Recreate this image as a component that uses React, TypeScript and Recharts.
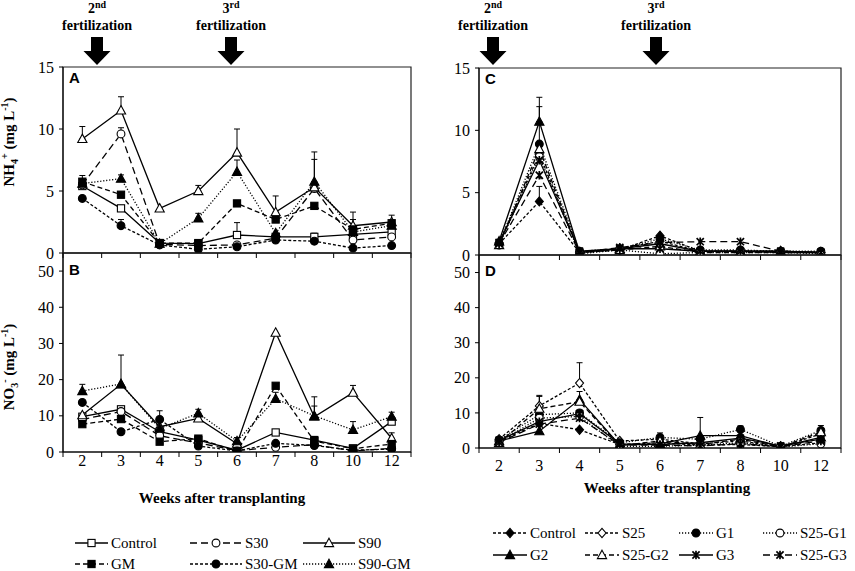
import React from "react";
import { ErrorBar, Line, LineChart, ReferenceArea, XAxis, YAxis } from "recharts";

const serif = "Liberation Serif, DejaVu Serif, serif";
const sans = "Liberation Sans, Arial, sans-serif";

const weeks = ["2", "3", "4", "5", "6", "7", "8", "10", "12"];
// integer ticks = band edges (tick marks), half ticks = band centres (labels)
const xTicks = [0, 0.5, 1, 1.5, 2, 2.5, 3, 3.5, 4, 4.5, 5, 5.5, 6, 6.5, 7, 7.5, 8, 8.5, 9];
const nh4Ticks = [0, 5, 10, 15];
const no3Ticks = [0, 10, 20, 30, 40, 50];

// Panel A: NH4+ (left experiment)
const aControl = [5.4, 3.6, 0.8, 0.75, 1.45, 1.3, 1.3, 1.5, 1.7];
const aS30 = [5.5, 9.6, 0.7, 0.6, 0.65, 1.2, 5.2, 1.05, 1.3];
const aS90 = [9.2, 11.5, 3.6, 5.0, 8.1, 3.3, 5.3, 2.2, 2.5];
const aGM = [5.75, 4.7, 0.8, 0.8, 4.0, 2.7, 3.8, 1.9, 2.4];
const aS30GM = [4.4, 2.2, 0.65, 0.3, 0.5, 1.05, 0.95, 0.4, 0.6];
const aS90GM = [5.6, 6.0, 0.75, 2.8, 6.55, 1.6, 5.75, 1.7, 2.2];
const aControlErr = [0.4, 0, 0, 0, 1.0, 0, 0.3, 0, 0];
const aS30Err = [0, 0.5, 0, 0, 0, 0, 0, 0, 0];
const aS90Err = [1.0, 1.1, 0, 0.45, 1.9, 1.3, 2.25, 1.1, 0.55];
const aGMErr = [0.5, 0, 0, 0, 0, 0, 0, 0.8, 0];
const aS30GMErr = [0, 0.5, 0, 0, 0, 0, 0, 0, 0];
const aS90GMErr = [0, 0.3, 0, 0.4, 0.95, 0, 2.4, 0, 0];

// Panel B: NO3- (left experiment)
const bControl = [9.75, 11.8, 5.6, 3.3, 0.5, 5.4, 3.3, 1.0, 8.4];
const bS30 = [9.0, 11.2, 4.5, 2.5, 0.4, 1.3, 2.0, 0.3, 1.0];
const bS90 = [10.2, 18.7, 7.0, 9.3, 2.3, 33.0, 9.75, 16.4, 3.8];
const bGM = [7.7, 9.1, 2.85, 3.7, 0.2, 18.3, 3.0, 0.9, 2.2];
const bS30GM = [13.7, 5.6, 9.0, 1.65, 0.3, 2.4, 1.8, 0.5, 0.8];
const bS90GM = [16.85, 18.8, 6.5, 10.7, 3.0, 14.7, 10.0, 6.1, 9.8];
const bControlErr = [0, 0, 0, 0, 0, 0, 1.0, 0, 0];
const bS30Err = [0, 0, 0, 0, 0, 0, 0, 0, 0];
const bS90Err = [0, 8.1, 0, 0, 0, 0, 5.5, 2.0, 1.5];
const bGMErr = [0, 0, 0, 0, 0, 0, 0, 0, 0];
const bS30GMErr = [0, 0, 2.4, 0, 0, 0, 0, 0, 0];
const bS90GMErr = [1.85, 0, 0, 1.1, 1.0, 1.8, 2.7, 2.3, 1.2];

// Panel C: NH4+ (right experiment)
const cControl = [0.9, 4.3, 0.2, 0.4, 1.55, 0.3, 0.3, 0.3, 0.2];
const cS25 = [1.0, 8.1, 0.2, 0.5, 1.1, 0.3, 0.3, 0.3, 0.2];
const cG1 = [0.9, 8.9, 0.3, 0.5, 1.3, 0.4, 0.4, 0.3, 0.3];
const cS25G1 = [0.8, 7.9, 0.1, 0.4, 0.1, 0.2, 0.2, 0.2, 0.1];
const cG2 = [1.1, 10.7, 0.2, 0.5, 0.9, 0.3, 0.3, 0.3, 0.2];
const cS25G2 = [0.8, 8.5, 0.2, 0.4, 0.7, 0.2, 0.2, 0.2, 0.2];
const cG3 = [1.0, 7.6, 0.3, 0.5, 0.5, 0.3, 0.3, 0.2, 0.2];
const cS25G3 = [0.9, 6.4, 0.2, 0.6, 1.0, 1.07, 1.07, 0.3, 0.2];
const cControlErr = [0, 1.2, 0, 0, 0, 0, 0, 0, 0];
const cG1Err = [0, 3.0, 0, 0, 0, 0, 0, 0, 0];
const cG2Err = [0, 1.95, 0, 0, 0, 0, 0, 0, 0];
const noErr = [0, 0, 0, 0, 0, 0, 0, 0, 0];

// Panel D: NO3- (right experiment)
const dControl = [2.0, 7.0, 5.2, 1.0, 1.5, 0.8, 1.0, 0.4, 1.5];
const dS25 = [2.5, 12.0, 18.5, 2.0, 2.5, 1.2, 2.0, 0.3, 4.0];
const dG1 = [2.3, 9.5, 10.0, 1.5, 3.0, 2.5, 5.3, 0.5, 5.0];
const dS25G1 = [1.8, 8.5, 9.0, 0.5, 0.5, 0.8, 1.5, 0.3, 1.2];
const dG2 = [2.0, 4.8, 13.8, 0.8, 1.2, 3.5, 3.5, 0.4, 3.0];
const dS25G2 = [1.5, 11.2, 13.2, 0.7, 2.0, 1.0, 2.5, 0.3, 4.5];
const dG3 = [2.2, 7.5, 9.8, 1.2, 1.0, 1.5, 2.8, 0.6, 2.5];
const dS25G3 = [1.6, 6.8, 8.5, 0.9, 0.8, 0.6, 1.2, 0.4, 2.0];
const dS25Err = [0, 3.0, 5.8, 0, 0, 0, 0, 0, 0];
const dG1Err = [0, 0, 0, 0, 1.3, 0, 1.0, 0, 1.4];
const dG2Err = [0, 0, 2.3, 0, 0, 5.2, 0, 0, 0];
const dS25G2Err = [0, 3.5, 0, 0, 0, 0, 0, 0, 0];

type Shape = "square" | "circle" | "triangle" | "diamond" | "star";

interface Style {
  name: string;
  shape: Shape;
  filled: boolean;
  dash?: string;
}

interface SeriesDef extends Style {
  key: string;
  values: number[];
  errors: number[];
}

const LONG = "7 4";
const DASH = "5 3";
const SHORT = "3 2";
const DOT = "1.2 1.8";

const leftStyles: Record<string, Style> = {
  control: { name: "Control", shape: "square", filled: false },
  s30: { name: "S30", shape: "circle", filled: false, dash: LONG },
  s90: { name: "S90", shape: "triangle", filled: false },
  gm: { name: "GM", shape: "square", filled: true, dash: DASH },
  s30gm: { name: "S30-GM", shape: "circle", filled: true, dash: SHORT },
  s90gm: { name: "S90-GM", shape: "triangle", filled: true, dash: DOT },
};

const rightStyles: Record<string, Style> = {
  control: { name: "Control", shape: "diamond", filled: true, dash: SHORT },
  s25: { name: "S25", shape: "diamond", filled: false, dash: SHORT },
  g1: { name: "G1", shape: "circle", filled: true, dash: DOT },
  s25g1: { name: "S25-G1", shape: "circle", filled: false, dash: DOT },
  g2: { name: "G2", shape: "triangle", filled: true },
  s25g2: { name: "S25-G2", shape: "triangle", filled: false, dash: DASH },
  g3: { name: "G3", shape: "star", filled: true },
  s25g3: { name: "S25-G3", shape: "star", filled: true, dash: LONG },
};

const mk = (styles: Record<string, Style>, key: string, values: number[], errors: number[]): SeriesDef => ({
  key,
  ...styles[key],
  values,
  errors,
});

const seriesA = [
  mk(leftStyles, "control", aControl, aControlErr),
  mk(leftStyles, "s30", aS30, aS30Err),
  mk(leftStyles, "s90", aS90, aS90Err),
  mk(leftStyles, "gm", aGM, aGMErr),
  mk(leftStyles, "s30gm", aS30GM, aS30GMErr),
  mk(leftStyles, "s90gm", aS90GM, aS90GMErr),
];
const seriesB = [
  mk(leftStyles, "control", bControl, bControlErr),
  mk(leftStyles, "s30", bS30, bS30Err),
  mk(leftStyles, "s90", bS90, bS90Err),
  mk(leftStyles, "gm", bGM, bGMErr),
  mk(leftStyles, "s30gm", bS30GM, bS30GMErr),
  mk(leftStyles, "s90gm", bS90GM, bS90GMErr),
];
const seriesC = [
  mk(rightStyles, "control", cControl, cControlErr),
  mk(rightStyles, "s25", cS25, noErr),
  mk(rightStyles, "g1", cG1, cG1Err),
  mk(rightStyles, "s25g1", cS25G1, noErr),
  mk(rightStyles, "g2", cG2, cG2Err),
  mk(rightStyles, "s25g2", cS25G2, noErr),
  mk(rightStyles, "g3", cG3, noErr),
  mk(rightStyles, "s25g3", cS25G3, noErr),
];
const seriesD = [
  mk(rightStyles, "control", dControl, noErr),
  mk(rightStyles, "s25", dS25, dS25Err),
  mk(rightStyles, "g1", dG1, dG1Err),
  mk(rightStyles, "s25g1", dS25G1, noErr),
  mk(rightStyles, "g2", dG2, dG2Err),
  mk(rightStyles, "s25g2", dS25G2, dS25G2Err),
  mk(rightStyles, "g3", dG3, noErr),
  mk(rightStyles, "s25g3", dS25G3, noErr),
];

function Marker({ cx, cy, shape, filled }: { cx: number; cy: number; shape: Shape; filled: boolean }) {
  const fill = filled ? "#000" : "#fff";
  const p = { stroke: "#000", strokeWidth: 1.1, fill };
  switch (shape) {
    case "square":
      return <rect x={cx - 3.6} y={cy - 3.6} width={7.2} height={7.2} {...p} />;
    case "circle":
      return <circle cx={cx} cy={cy} r={3.9} {...p} />;
    case "triangle":
      return <path d={`M${cx},${cy - 4.8}L${cx + 4.6},${cy + 3.6}L${cx - 4.6},${cy + 3.6}Z`} {...p} />;
    case "diamond":
      return <path d={`M${cx},${cy - 4.6}L${cx + 4},${cy}L${cx},${cy + 4.6}L${cx - 4},${cy}Z`} {...p} />;
    default:
      return (
        <path
          d={`M${cx - 3.6},${cy - 3.6}L${cx + 3.6},${cy + 3.6}M${cx + 3.6},${cy - 3.6}L${cx - 3.6},${cy + 3.6}M${cx},${cy - 4.2}L${cx},${cy + 4.2}`}
          stroke="#000"
          strokeWidth={1.7}
          fill="none"
        />
      );
  }
}

function WeekTick(props: any) {
  const { x, y, payload, labelDy } = props;
  const v = payload.value as number;
  if (Number.isInteger(v)) {
    return <line x1={x} y1={y} x2={x} y2={y + 5} stroke="#000" strokeWidth={1} />;
  }
  if (!labelDy) return null;
  return (
    <text x={x} y={y + labelDy} textAnchor="middle" fill="#000" style={{ fontSize: 16, fontFamily: serif }}>
      {weeks[Math.floor(v)]}
    </text>
  );
}

interface PanelProps {
  series: SeriesDef[];
  yTicks: number[];
  yMax: number;
  x0: number;
  x1: number;
  y0: number;
  y1: number;
  labelDy?: number;
}

function Panel({ series, yTicks, yMax, x0, x1, y0, y1, labelDy }: PanelProps) {
  const left = x0 - 63;
  const top = y0 - 12;
  const bottom = labelDy ? 30 : 8;
  const width = x1 - left + 9;
  const height = y1 - top + bottom;

  const data = weeks.map((week, i) => {
    const row: Record<string, unknown> = { x: i + 0.5, week };
    series.forEach((s) => {
      row[s.key] = s.values[i];
      row[`${s.key}Err`] = s.errors[i] > 0 ? [0, s.errors[i]] : undefined;
    });
    return row;
  });

  return (
    <div style={{ position: "absolute", left, top }}>
      <LineChart width={width} height={height} data={data} margin={{ top: 12, right: 9, bottom: 0, left: 0 }}>
        <XAxis
          type="number"
          dataKey="x"
          domain={[0, 9]}
          ticks={xTicks}
          interval={0}
          allowDataOverflow
          height={bottom}
          tickSize={0}
          tickMargin={0}
          tickLine={false}
          axisLine={{ stroke: "#000" }}
          tick={(p: any) => <WeekTick {...p} labelDy={labelDy} />}
        />
        <YAxis
          type="number"
          domain={[0, yMax]}
          ticks={yTicks}
          interval={0}
          allowDataOverflow
          width={63}
          tickSize={4}
          tickMargin={5}
          tick={{ fill: "#000", fontSize: 16, style: { fontFamily: serif } }}
          tickLine={{ stroke: "#000" }}
          axisLine={{ stroke: "#000" }}
        />
        <ReferenceArea x1={0} x2={9} y1={0} y2={yMax} fill="none" stroke="#222" strokeWidth={1.2} />
        {series.map((s) => (
          <Line
            key={s.key}
            dataKey={s.key}
            type="linear"
            stroke="#000"
            strokeWidth={1.3}
            strokeDasharray={s.dash}
            isAnimationActive={false}
            activeDot={false}
            dot={(p: any) => (
              <Marker key={`${s.key}-${p.index}`} cx={p.cx} cy={p.cy} shape={s.shape} filled={s.filled} />
            )}
          >
            <ErrorBar dataKey={`${s.key}Err`} direction="y" width={3} stroke="#000" strokeWidth={1} />
          </Line>
        ))}
      </LineChart>
    </div>
  );
}

function LegendItem({ x, y, len, s }: { x: number; y: number; len: number; s: Style }) {
  return (
    <g>
      <line x1={x} y1={y} x2={x + len} y2={y} stroke="#000" strokeWidth={1.3} strokeDasharray={s.dash} />
      <Marker cx={x + len / 2} cy={y} shape={s.shape} filled={s.filled} />
      <text x={x + len + 3} y={y + 5} fill="#000" style={{ fontSize: 15, fontFamily: serif }}>
        {s.name}
      </text>
    </g>
  );
}

const boldSerif = { fontFamily: serif, fontWeight: 700 };

function Fertilization({ x, ord }: { x: number; ord: string }) {
  return (
    <g>
      <text x={x} y={13} textAnchor="middle" style={{ ...boldSerif, fontSize: 14 }}>
        <tspan>{ord[0]}</tspan>
        <tspan dy={-5} style={{ fontSize: 10 }}>
          {ord.slice(1)}
        </tspan>
      </text>
      <text x={x} y={30} textAnchor="middle" style={{ ...boldSerif, fontSize: 14 }}>
        fertilization
      </text>
      <path
        d={`M${x - 6},37L${x + 6},37L${x + 6},51L${x + 13.5},51L${x},65L${x - 13.5},51L${x - 6},51Z`}
        fill="#000"
      />
    </g>
  );
}

function YTitle({ cx, cy, ion, sub, sup }: { cx: number; cy: number; ion: string; sub: string; sup: string }) {
  return (
    <text
      transform={`translate(${cx},${cy}) rotate(-90)`}
      textAnchor="middle"
      fill="#000"
      style={{ ...boldSerif, fontSize: 15 }}
    >
      <tspan>{ion}</tspan>
      <tspan dy={4} style={{ fontSize: 10 }}>
        {sub}
      </tspan>
      <tspan dy={-10} style={{ fontSize: 10 }}>
        {sup}
      </tspan>
      <tspan dy={6}> (mg L</tspan>
      <tspan dy={-6} style={{ fontSize: 10 }}>
        -1
      </tspan>
      <tspan dy={6}>)</tspan>
    </text>
  );
}

export default function App() {
  const leftRows = [
    ["control", "s30", "s90"],
    ["gm", "s30gm", "s90gm"],
  ];
  const leftCols = [75, 190, 303];
  const leftLens = [33, 52, 52];
  const rightRows = [
    ["control", "s25", "g1", "s25g1"],
    ["g2", "s25g2", "g3", "s25g3"],
  ];
  const rightCols = [493, 585, 679, 763];

  return (
    <div
      style={{
        position: "absolute",
        left: 0,
        top: 0,
        width: 855,
        height: 571,
        background: "#fff",
        overflow: "hidden",
        fontFamily: serif,
      }}
    >
      <Panel series={seriesA} yTicks={nh4Ticks} yMax={15} x0={63} x1={411} y0={67} y1={253} />
      <Panel series={seriesB} yTicks={no3Ticks} yMax={55} x0={63} x1={411} y0={253} y1={452} labelDy={14} />
      <Panel series={seriesC} yTicks={nh4Ticks} yMax={15} x0={479} x1={841} y0={68} y1={255} />
      <Panel series={seriesD} yTicks={no3Ticks} yMax={55} x0={479} x1={841} y0={255} y1={448} labelDy={23} />

      <svg
        width={855}
        height={571}
        style={{ position: "absolute", left: 0, top: 0, pointerEvents: "none" }}
      >
        <Fertilization x={97} ord="2nd" />
        <Fertilization x={231} ord="3rd" />
        <Fertilization x={493} ord="2nd" />
        <Fertilization x={656} ord="3rd" />

        <g fill="#000" style={{ fontFamily: sans, fontWeight: 700, fontSize: 15 }}>
          <text x={69} y={83}>A</text>
          <text x={69} y={275}>B</text>
          <text x={485} y={84}>C</text>
          <text x={485} y={276}>D</text>
        </g>

        <YTitle cx={14} cy={142} ion="NH" sub="4" sup="+" />
        <YTitle cx={14} cy={367} ion="NO" sub="3" sup="-" />

        <text x={222} y={503} textAnchor="middle" style={{ ...boldSerif, fontSize: 15 }}>
          Weeks after transplanting
        </text>
        <text x={667} y={493} textAnchor="middle" style={{ ...boldSerif, fontSize: 15 }}>
          Weeks after transplanting
        </text>

        {leftRows.map((row, r) =>
          row.map((k, c) => (
            <LegendItem key={`l-${k}`} x={leftCols[c]} y={[543, 564][r]} len={leftLens[c]} s={leftStyles[k]} />
          ))
        )}
        {rightRows.map((row, r) =>
          row.map((k, c) => (
            <LegendItem key={`r-${k}`} x={rightCols[c]} y={[533, 555][r]} len={34} s={rightStyles[k]} />
          ))
        )}
      </svg>
    </div>
  );
}
